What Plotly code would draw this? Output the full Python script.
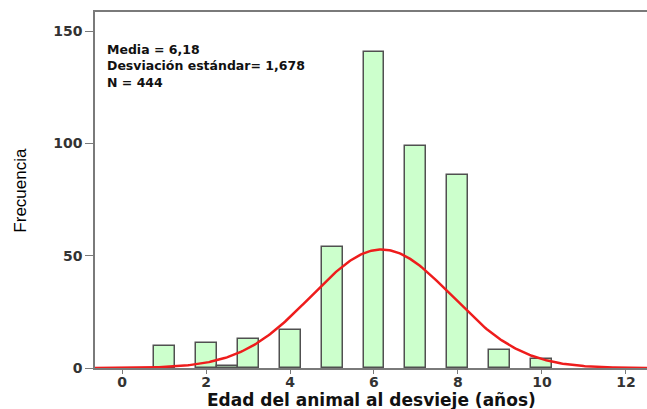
import numpy as np
import plotly.graph_objects as go

# Data (bin width 0.5)
bin_centers = [1, 2, 2.5, 3, 4, 5, 6, 7, 8, 9, 10]
frequencies = [10, 11, 1, 13, 17, 54, 141, 99, 86, 8, 4]
media = 6.18
desv = 1.678
n_total = 444
bin_width = 0.5
x_ticks = [0, 2, 4, 6, 8, 10, 12]
y_ticks = [0, 50, 100, 150]
stats_lines = ["Media = 6,18", "Desviación estándar= 1,678", "N = 444"]
x_title = "Edad del animal al desvieje (años)"
y_title = "Frecuencia"

xr = [-0.643, 12.548]
xs = np.linspace(xr[0], xr[1], 400)
ys = n_total * bin_width / (desv * np.sqrt(2 * np.pi)) * np.exp(-0.5 * ((xs - media) / desv) ** 2)

fig = go.Figure()
fig.add_trace(go.Bar(
    x=bin_centers, y=frequencies, width=bin_width,
    marker=dict(color="#ccffcc", line=dict(color="#505050", width=1.5)),
    hoverinfo="x+y",
))
fig.add_trace(go.Scatter(
    x=xs, y=ys, mode="lines",
    line=dict(color="#ee1c1c", width=2.5),
    hoverinfo="skip",
))

tick_font = dict(family="DejaVu Sans", size=14, color="#333333", weight="bold")
fig.update_layout(
    width=649, height=409,
    margin=dict(l=95, r=0, t=12, b=41),
    paper_bgcolor="white", plot_bgcolor="white",
    showlegend=False,
    xaxis=dict(
        range=xr, tickvals=x_ticks, ticktext=[str(v) for v in x_ticks],
        showgrid=False, zeroline=False, automargin=False,
        showline=True, linecolor="#7a7a7a", linewidth=1.5, mirror=True,
        ticks="outside", ticklen=4, tickcolor="#7a7a7a", tickwidth=1,
        tickfont=tick_font, ticklabelstandoff=-4,
    ),
    yaxis=dict(
        range=[0, 158.6], tickvals=y_ticks, ticktext=[str(v) for v in y_ticks],
        showgrid=False, zeroline=False, automargin=False,
        showline=True, linecolor="#7a7a7a", linewidth=1.5,
        ticks="outside", ticklen=8, tickcolor="#7a7a7a", tickwidth=1,
        tickfont=tick_font,
    ),
    bargap=0,
)

fig.add_annotation(
    text="<b>" + "<br>".join(stats_lines) + "</b>", xref="paper", yref="paper",
    x=0.018, y=0.92, xanchor="left", yanchor="top", align="left", showarrow=False,
    font=dict(family="DejaVu Sans", size=12.5, color="#111111"),
)
fig.add_annotation(
    text="<b>" + x_title + "</b>", x=(xr[0] + xr[1]) / 2 - 0.02, xref="x", yref="paper",
    y=0, xanchor="center", yanchor="top", yshift=-20, showarrow=False,
    font=dict(family="DejaVu Sans", size=17, color="#111111"),
)
fig.add_annotation(
    text=y_title, xref="paper", yref="paper", textangle=-90,
    x=-0.136, y=0.5, xanchor="center", yanchor="middle", showarrow=False,
    font=dict(family="Liberation Sans", size=17, color="#000000"),
)

fig.write_html("out.html", config={"displayModeBar": False},
               post_script="document.body.style.margin='0';document.body.style.overflow='hidden';")
